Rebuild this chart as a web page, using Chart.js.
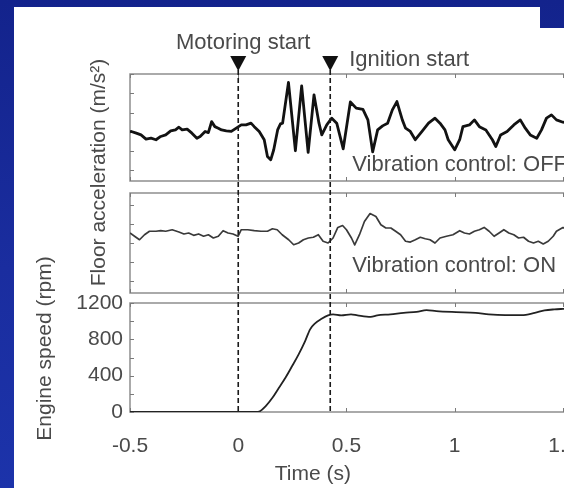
<!DOCTYPE html>
<html>
<head>
<meta charset="utf-8">
<script src="https://cdn.jsdelivr.net/npm/chart.js@4/dist/chart.umd.min.js"></script>
<style>
  html, body { margin: 0; padding: 0; width: 564px; height: 488px; overflow: hidden; }
  body { background: linear-gradient(180deg, #13238c 0%, #1a2d9f 55%, #1c33aa 100%); position: relative; }
  #sheet { position: absolute; left: 14px; top: 7px; width: 526px; height: 481px; background: #fff; }
  #sheet2 { position: absolute; left: 540px; top: 28px; width: 40px; height: 460px; background: #fff; }
  #wrap { position: absolute; left: 0; top: 0; width: 600px; height: 488px; }
</style>
</head>
<body>
<div id="sheet"></div>
<div id="sheet2"></div>
<div id="wrap"><canvas id="c" width="600" height="488"></canvas></div>
<script>
// Time axis (s)
const timeTicks = [-0.5, 0, 0.5, 1, 1.5];
const eventTimes = [0, 0.425];
const eventLabels = ['Motoring start', 'Ignition start'];

// Floor acceleration, vibration control OFF
const offTime = [-0.5, -0.494, -0.471, -0.449, -0.426, -0.403, -0.380, -0.358, -0.335, -0.312, -0.290, -0.274, -0.259, -0.236, -0.214, -0.191, -0.176, -0.153, -0.138, -0.123, -0.108, -0.092, -0.077, -0.055, -0.032, -0.009, 0.014, 0.036, 0.059, 0.074, 0.097, 0.120, 0.135, 0.150, 0.164, 0.182, 0.195, 0.205, 0.232, 0.264, 0.293, 0.323, 0.350, 0.373, 0.386, 0.409, 0.432, 0.455, 0.485, 0.518, 0.545, 0.576, 0.599, 0.621, 0.644, 0.667, 0.690, 0.712, 0.733, 0.758, 0.773, 0.795, 0.818, 0.849, 0.879, 0.909, 0.932, 0.955, 0.970, 1.000, 1.023, 1.038, 1.068, 1.091, 1.114, 1.144, 1.174, 1.190, 1.212, 1.242, 1.273, 1.303, 1.326, 1.349, 1.379, 1.401, 1.424, 1.447, 1.470, 1.500, 1.55];
const offAccel = [0.0, 0.02, -0.07, -0.16, -0.38, -0.33, -0.41, -0.24, -0.16, 0.05, 0.10, 0.24, 0.10, 0.14, -0.07, -0.33, -0.24, 0.02, -0.04, 0.53, 0.27, 0.19, 0.10, 0.05, 0.02, 0.19, 0.36, 0.36, 0.45, 0.27, 0.02, -0.41, -1.28, -1.45, -0.93, 0.10, 0.41, 0.45, 2.56, -0.98, 2.38, -1.06, 1.92, 0.45, -0.16, 0.36, 0.71, 0.45, -0.88, 1.55, 1.23, 1.17, 0.62, -1.04, 0.10, 0.31, 0.45, 1.14, 1.57, 0.62, 0.19, 0.02, -0.41, 0.02, 0.45, 0.71, 0.45, 0.10, -0.41, -0.93, -0.41, 0.27, 0.36, 0.62, 0.27, 0.10, -0.41, -0.76, -0.16, 0.02, 0.36, 0.62, 0.19, -0.16, -0.33, 0.10, 0.71, 0.88, 0.62, 0.5, 0.4];

// Floor acceleration, vibration control ON
const onTime = [-0.5, -0.479, -0.456, -0.433, -0.410, -0.380, -0.358, -0.335, -0.305, -0.274, -0.251, -0.229, -0.206, -0.183, -0.160, -0.138, -0.115, -0.092, -0.070, -0.047, -0.024, -0.001, 0.014, 0.044, 0.074, 0.105, 0.135, 0.158, 0.180, 0.203, 0.233, 0.256, 0.279, 0.301, 0.324, 0.347, 0.370, 0.392, 0.415, 0.438, 0.460, 0.482, 0.500, 0.523, 0.538, 0.560, 0.583, 0.609, 0.636, 0.659, 0.682, 0.705, 0.727, 0.750, 0.773, 0.795, 0.818, 0.841, 0.864, 0.886, 0.909, 0.932, 0.962, 0.992, 1.023, 1.045, 1.068, 1.091, 1.114, 1.136, 1.159, 1.182, 1.205, 1.227, 1.250, 1.273, 1.295, 1.318, 1.341, 1.364, 1.386, 1.409, 1.432, 1.455, 1.470, 1.500, 1.55];
const onAccel = [0.52, 0.35, 0.17, 0.43, 0.61, 0.61, 0.64, 0.61, 0.69, 0.57, 0.47, 0.52, 0.40, 0.47, 0.35, 0.43, 0.26, 0.35, 0.64, 0.52, 0.47, 0.35, 0.69, 0.69, 0.64, 0.61, 0.61, 0.74, 0.69, 0.43, 0.17, -0.09, 0.00, 0.17, 0.26, 0.30, 0.43, 0.09, 0.00, 0.26, 0.81, 0.91, 0.69, 0.26, -0.10, 0.43, 1.12, 1.53, 1.38, 0.95, 0.78, 0.78, 0.61, 0.43, 0.09, 0.05, 0.17, 0.30, 0.22, 0.17, 0.00, 0.26, 0.35, 0.43, 0.64, 0.52, 0.47, 0.61, 0.69, 0.81, 0.61, 0.35, 0.52, 0.69, 0.52, 0.43, 0.26, 0.30, 0.09, 0.00, 0.09, -0.05, 0.09, 0.35, 0.61, 0.8, 0.7];

// Engine speed (rpm)
const rpmTime = [-0.5, 0.082, 0.097, 0.127, 0.158, 0.188, 0.218, 0.249, 0.279, 0.309, 0.332, 0.355, 0.385, 0.415, 0.438, 0.476, 0.521, 0.551, 0.612, 0.642, 0.703, 0.764, 0.824, 0.870, 0.915, 1.006, 1.097, 1.158, 1.233, 1.309, 1.370, 1.415, 1.460, 1.500, 1.55];
const rpmValue = [0, 0, 5, 66, 157, 267, 377, 506, 635, 781, 910, 976, 1026, 1064, 1075, 1064, 1075, 1064, 1048, 1064, 1075, 1092, 1103, 1122, 1111, 1100, 1092, 1075, 1067, 1067, 1092, 1119, 1130, 1135, 1140];
const rpmTicks = [0, 400, 800, 1200];
const rpmMinorStep = 200;
const accelTickStep = 1;

const FONT = '"Liberation Sans", Arial, Helvetica, sans-serif';
const TEXT = '#4a4a4a';

const pts = (t, v) => t.map((x, i) => ({ x, y: v[i] }));

// Frames, inward tick marks, event markers and in-plot text
const panelDecor = {
  id: 'panelDecor',
  beforeDatasetsDraw(chart) {
    const { ctx, scales } = chart;
    const x = scales.x;
    ctx.save();
    ctx.strokeStyle = '#8e8e8e';
    ctx.lineWidth = 1.5;
    ['yOff', 'yOn', 'yRpm'].forEach(id => {
      const s = scales[id];
      ctx.strokeRect(x.left, s.top, x.right - x.left, s.bottom - s.top);
    });
    ctx.lineWidth = 1;
    ctx.strokeStyle = '#7a7a7a';
    ctx.beginPath();
    ['yOff', 'yOn', 'yRpm'].forEach(id => {
      const s = scales[id];
      timeTicks.forEach(t => {
        const px = Math.round(x.getPixelForValue(t)) + 0.5;
        ctx.moveTo(px, s.top); ctx.lineTo(px, s.top + 4);
        ctx.moveTo(px, s.bottom); ctx.lineTo(px, s.bottom - 4);
      });
      const step = id === 'yRpm' ? rpmMinorStep : accelTickStep;
      for (let v = Math.ceil(s.min / step) * step; v <= s.max; v += step) {
        const py = Math.round(s.getPixelForValue(v)) + 0.5;
        ctx.moveTo(x.left, py); ctx.lineTo(x.left + 4, py);
      }
    });
    ctx.stroke();
    ctx.restore();
  },
  afterDatasetsDraw(chart) {
    const { ctx, scales } = chart;
    const x = scales.x, top = scales.yOff, on = scales.yOn, rpm = scales.yRpm;
    ctx.save();
    // event lines and markers
    eventTimes.forEach(t => {
      const px = x.getPixelForValue(t);
      ctx.strokeStyle = '#1a1a1a';
      ctx.lineWidth = 1.6;
      ctx.setLineDash([5, 3]);
      ctx.beginPath();
      ctx.moveTo(px, top.top - 4);
      ctx.lineTo(px, rpm.bottom);
      ctx.stroke();
      ctx.setLineDash([]);
      ctx.fillStyle = '#111';
      ctx.beginPath();
      ctx.moveTo(px - 8, top.top - 18);
      ctx.lineTo(px + 8, top.top - 18);
      ctx.lineTo(px, top.top - 3);
      ctx.closePath();
      ctx.fill();
    });
    ctx.fillStyle = TEXT;
    ctx.font = '22px ' + FONT;
    ctx.textBaseline = 'alphabetic';
    const p0 = x.getPixelForValue(eventTimes[0]);
    const p1 = x.getPixelForValue(eventTimes[1]);
    ctx.textAlign = 'center';
    ctx.fillText(eventLabels[0], p0 + 5, top.top - 25);
    ctx.textAlign = 'left';
    ctx.fillText(eventLabels[1], p1 + 19, top.top - 8);
    ctx.fillText('Vibration control: OFF', p1 + 22, top.bottom - 10);
    ctx.fillText('Vibration control: ON', p1 + 22, on.bottom - 21);
    // axis titles
    ctx.font = '21px ' + FONT;
    ctx.textAlign = 'center';
    ctx.textBaseline = 'middle';
    ctx.save();
    ctx.translate(x.left - 31, (top.top + on.bottom) / 2 - 11);
    ctx.rotate(-Math.PI / 2);
    ctx.fillText('Floor acceleration (m/s\u00B2)', 0, 0);
    ctx.restore();
    ctx.save();
    ctx.translate(x.left - 85, (rpm.top + rpm.bottom) / 2 - 9);
    ctx.rotate(-Math.PI / 2);
    ctx.fillText('Engine speed (rpm)', 0, 0);
    ctx.restore();
    ctx.fillText('Time (s)', x.getPixelForValue(0.345), x.bottom - 14);
    ctx.restore();
  }
};

const hiddenAxis = (weight, stackWeight) => ({
  type: 'linear', position: 'left', stack: 'panels', stackWeight, weight,
  display: false, min: 0, max: 1
});
const quietAxis = (weight, stackWeight, min, max) => ({
  type: 'linear', position: 'left', stack: 'panels', stackWeight, weight,
  min, max,
  grid: { display: false, drawTicks: false },
  border: { display: false },
  ticks: { display: false },
  afterFit: s => { s.width = 0; }
});

new Chart(document.getElementById('c'), {
  type: 'line',
  data: {
    datasets: [
      { data: pts(offTime, offAccel), yAxisID: 'yOff', borderColor: '#121212', borderWidth: 2.8, pointRadius: 0, tension: 0, borderJoinStyle: 'round' },
      { data: pts(onTime, onAccel), yAxisID: 'yOn', borderColor: '#3a3a3a', borderWidth: 1.7, pointRadius: 0, tension: 0, borderJoinStyle: 'round' },
      { data: pts(rpmTime, rpmValue), yAxisID: 'yRpm', borderColor: '#222', borderWidth: 1.8, pointRadius: 0, cubicInterpolationMode: 'monotone' }
    ]
  },
  options: {
    responsive: false,
    animation: false,
    events: [],
    layout: { padding: { left: 15, top: 74, right: 19, bottom: 0 } },
    plugins: { legend: { display: false }, tooltip: { enabled: false } },
    scales: {
      x: {
        type: 'linear', position: 'bottom', min: -0.5, max: 1.55,
        grid: { display: false, drawTicks: false },
        border: { display: false },
        afterBuildTicks: s => { s.ticks = timeTicks.map(value => ({ value })); },
        ticks: { autoSkip: false, maxRotation: 0, padding: 22, color: TEXT, font: { family: FONT, size: 21 }, callback: v => String(v) },
        afterFit: s => { s.height = 76; }
      },
      yOff: quietAxis(5, 107, -2.55, 3.0),
      gap1: hiddenAxis(4, 12),
      yOn: quietAxis(3, 100, -2.6, 2.6),
      gap2: hiddenAxis(2, 10),
      yRpm: {
        type: 'linear', position: 'left', stack: 'panels', stackWeight: 109, weight: 1,
        min: 0, max: 1200,
        grid: { display: false, drawTicks: false },
        border: { display: false },
        afterBuildTicks: s => { s.ticks = rpmTicks.map(value => ({ value })); },
        ticks: { autoSkip: false, padding: 7, color: TEXT, font: { family: FONT, size: 21 }, callback: v => String(v) },
        afterFit: s => { s.width = 115; }
      }
    }
  },
  plugins: [panelDecor]
});
</script>
</body>
</html>
